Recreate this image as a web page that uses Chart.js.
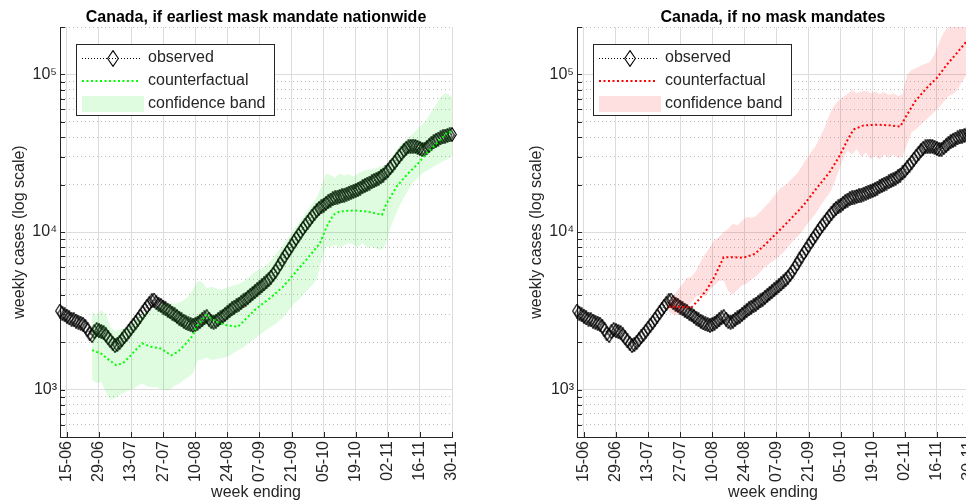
<!DOCTYPE html>
<html lang="en">
<head>
<meta charset="UTF-8">
<title>Canada - mask mandate counterfactuals</title>
<script src="https://cdn.jsdelivr.net/npm/chart.js"></script>
<style>
  html, body { margin: 0; padding: 0; background: #fff; }
  body { width: 966px; height: 502px; overflow: hidden; position: relative; }
  canvas { position: absolute; top: 0; }
  #left { left: 0; }
  #right { left: 517px; }
</style>
</head>
<body>
<canvas id="left" width="500" height="502"></canvas>
<canvas id="right" width="500" height="502"></canvas>

<script>
  // days counted from 15-06 (day 0)
  const tickDays = [0, 14, 28, 42, 56, 70, 84, 98, 112, 126, 140, 154, 168];
  const tickLabels = ['15-06', '29-06', '13-07', '27-07', '10-08', '24-08', '07-09',
                      '21-09', '05-10', '19-10', '02-11', '16-11', '30-11'];

  const yMajorValues = [1000, 10000, 100000];
  const yTickLabels = ['10³', '10⁴', '10⁵'];
  const yMinorValues = [500, 600, 700, 800, 900,
                        2000, 3000, 4000, 5000, 6000, 7000, 8000, 9000,
                        20000, 30000, 40000, 50000, 60000, 70000, 80000, 90000, 200000];

  const legendLabels = ['observed', 'counterfactual', 'confidence band'];

  // observed weekly cases, one value per day from 12-06 (day -3) to 30-11 (day 168)
  const obsStartDay = -3;
  const observed = [
    3150, 3050, 2980, 2920, 2850, 2800, 2770, 2720, 2680, 2640,
    2600, 2520, 2400, 2260, 2200, 2330, 2400, 2360, 2330, 2300,
    2220, 2130, 2040, 1960, 1900, 1930, 1990, 2070, 2160, 2240,
    2350, 2450, 2560, 2670, 2800, 2930, 3080, 3220, 3380, 3520,
    3660, 3700, 3560, 3480, 3420, 3340, 3260, 3190, 3120, 3050,
    2980, 2910, 2840, 2770, 2710, 2650, 2610, 2580, 2560, 2590,
    2640, 2700, 2770, 2850, 2900, 2800, 2700, 2680, 2720, 2780,
    2850, 2920, 3000, 3080, 3170, 3250, 3330, 3400, 3480, 3560,
    3650, 3740, 3850, 3960, 4070, 4180, 4300, 4420, 4550, 4680,
    4820, 4980, 5180, 5380, 5650, 5950, 6280, 6650, 7020, 7400,
    7780, 8200, 8650, 9100, 9550, 10050, 10550, 11050, 11550, 12050,
    12600, 13150, 13650, 14100, 14450, 14800, 15200, 15600, 15950, 16250,
    16450, 16650, 16800, 16950, 17150, 17400, 17650, 17900, 18100, 18350,
    18650, 19000, 19400, 19750, 20100, 20450, 20800, 21150, 21500, 21950,
    22450, 23000, 23700, 24500, 25500, 26600, 27800, 29000, 30300, 31600,
    32900, 34000, 34700, 35000, 35100, 34900, 34500, 33900, 33400, 33500,
    34300, 35300, 36400, 37400, 38200, 38900, 39500, 40100, 40600, 41000,
    41300, 41600
  ];

  // left panel: earliest mask mandate nationwide
  const earlyDays = [11, 15, 18.5, 21.5, 24.3, 27.3, 31, 33, 36.7, 41, 45.5, 48.4, 52, 55, 56.4,
                     60.8, 65.2, 69.6, 74.6, 78.3, 82.7, 88.5, 94.3, 98.7, 103.1, 107.4, 110.4,
                     113.3, 116.2, 119.1, 124.9, 130.8, 137.4, 139.5, 143.9, 148.3, 152.7, 157.1,
                     161.4, 165.8, 168];
  const earlyCases = [1780, 1690, 1535, 1430, 1465, 1612, 1850, 1960, 1870, 1820, 1650, 1735, 1963, 2210, 2500,
                      2970, 2690, 2560, 2500, 2830, 3270, 3790, 4500, 5330, 6320, 7500, 8490,
                      10800, 12840, 13500, 13700, 13500, 12840, 15240, 19460, 23070, 26720, 31700,
                      36700, 42560, 43600];
  const earlyBandDays = [11, 13, 15, 17, 19, 21, 23, 25, 27, 29, 31, 33, 35, 37, 39, 41, 43, 45, 47, 49,
                         51, 53, 55, 57, 59, 61, 63, 65, 67, 69, 71, 73, 75, 77, 79, 81, 83, 85, 87, 89,
                         91, 93, 95, 97, 99, 101, 103, 105, 107, 109, 111, 113, 115, 117, 119, 121, 123,
                         125, 127, 129, 131, 133, 135, 137, 139, 141, 143, 145, 147, 149, 151, 153, 155,
                         157, 159, 161, 163, 165, 167, 168];
  const earlyLow = [1146, 1100, 1120, 960, 860, 880, 920, 960, 990, 1010, 1060, 1090, 1050, 1030, 1040, 1010, 990, 1000, 1060, 1090,
                    1150, 1200, 1270, 1530, 1550, 1600, 1540, 1560, 1580, 1600, 1640, 1720, 1780, 1850, 1950, 2060, 2150, 2280, 2400, 2500,
                    2600, 2750, 2950, 3200, 3500, 3700, 4000, 4300, 4600, 5000, 6500, 8100, 8000, 8300, 7900, 8200, 8500,
                    8300, 8000, 8500, 7900, 8100, 7800, 7700, 8200, 10500, 12500, 14500, 16500, 18500, 20500, 22000, 23500,
                    24500, 25500, 26500, 27500, 28500, 29500, 30200];
  const earlyHigh = [3120, 2950, 3200, 3000, 2500, 2350, 2400, 2450, 2550, 2700, 2900, 3000, 3100, 3200, 3300, 3450, 3500, 3550, 3500, 3550,
                     3700, 3900, 4300, 4900, 4800, 4400, 4500, 4400, 4300, 4400, 4500, 4600, 4700, 4850, 5100, 5450, 5700, 5900, 6100, 6600,
                     7200, 7800, 8600, 9400, 10400, 11300, 12400, 13700, 15200, 16500, 19500, 23500, 23000, 22000, 23500, 22800, 23300,
                     22400, 23500, 24500, 24800, 25000, 25500, 26100, 26500, 28000, 32000, 35000, 37000, 40000, 42000, 45000, 48000,
                     52000, 58000, 64000, 72000, 76000, 74000, 72700];

  // right panel: no mask mandates
  const noMaskDays = [37, 42, 47, 50, 53.5, 57, 61, 65, 69.5, 74.6, 79.7, 84, 89, 94, 96, 101.6, 107.4,
                      111.8, 114.7, 117.6, 122, 128, 133.6, 138, 141, 144.5, 149.6, 154, 158.4, 162.8, 166.4, 168];
  const noMaskCases = [3350, 3350, 3330, 3700, 4290, 5200, 6920, 6920, 6870, 7260, 8490, 9810, 11600, 13840, 14900, 19000, 24200,
                       30900, 37600, 44700, 47500, 48000, 47500, 46600, 55600, 67600, 82200, 95100, 115600, 137200, 158800, 168000];
  const noMaskBandDays = [37, 39, 41, 43, 45, 47, 49, 51, 53, 55, 57, 59, 61, 63, 65, 67, 69, 71, 73, 75, 77, 79, 81,
                          83, 85, 87, 89, 91, 93, 95, 97, 99, 101, 103, 105, 107, 109, 111, 113, 115, 117, 119, 121,
                          123, 125, 127, 129, 131, 133, 135, 137, 139, 141, 143, 145, 147, 149, 151, 153, 155, 157,
                          159, 161, 163, 165, 167, 168];
  const noMaskLow = [3120, 3000, 2950, 3100, 3300, 3600, 3900, 4000, 3900, 4300, 4600, 4900, 4900, 4200, 4000, 4300, 4600, 4700, 5000, 5200, 5600, 6000, 6300,
                     6600, 7000, 7400, 8000, 8700, 9300, 10000, 11000, 12000, 13000, 14500, 16000, 17500, 20000, 24000, 29000, 33000, 31000, 33500, 30000,
                     32000, 29000, 30500, 28800, 31000, 29500, 31000, 29500, 30000, 36000, 43000, 45000, 48000, 51000, 54400, 58000, 62000, 67000,
                     72700, 75000, 80000, 90000, 100000, 105000];
  const noMaskHigh = [3610, 3900, 4300, 4700, 5100, 5200, 5700, 6500, 7300, 8000, 8900, 9300, 10000, 10500, 11300, 11000, 11800, 12500, 12300, 12600, 13500, 14500, 15500,
                      17000, 18500, 19500, 20500, 22000, 23500, 26000, 29000, 32000, 35000, 40000, 46000, 55000, 63000, 68000, 72000, 75000, 80000, 76000, 78000,
                      79000, 76000, 78000, 75000, 77000, 74000, 76000, 73000, 75000, 100000, 107000, 110000, 114000, 117000, 120000, 135000, 160000, 185000,
                      200000, 210000, 220000, 230000, 240000, 250000];

  const ink = '#262626';
  const fontFamily = "'Liberation Sans', Arial, Helvetica, sans-serif";
  Chart.defaults.font.family = fontFamily;
  Chart.defaults.color = ink;

  function diamond(w, h) {
    const c = document.createElement('canvas');
    c.width = w; c.height = h;
    const g = c.getContext('2d');
    g.strokeStyle = '#000';
    g.lineWidth = 1.1;
    g.beginPath();
    g.moveTo(w / 2, 0.6);
    g.lineTo(w - 0.6, h / 2);
    g.lineTo(w / 2, h - 0.6);
    g.lineTo(0.6, h / 2);
    g.closePath();
    g.stroke();
    return c;
  }
  const markDiamond = diamond(10, 15);
  const legendDiamond = diamond(12, 17);

  const toPoints = (xs, ys) => xs.map((x, i) => ({ x: x, y: ys[i] }));

  // MATLAB style ticks pointing into the plot
  const innerTicks = {
    id: 'innerTicks',
    afterDatasetsDraw(chart) {
      const { ctx, chartArea, scales } = chart;
      ctx.save();
      ctx.strokeStyle = ink;
      ctx.lineWidth = 1;
      ctx.beginPath();
      scales.x.ticks.forEach(t => {
        const px = Math.round(scales.x.getPixelForValue(t.value)) + 0.5;
        ctx.moveTo(px, chartArea.bottom);
        ctx.lineTo(px, chartArea.bottom - 5);
      });
      scales.y.ticks.forEach(t => {
        const py = Math.round(scales.y.getPixelForValue(t.value)) + 0.5;
        ctx.moveTo(chartArea.left, py);
        ctx.lineTo(chartArea.left + 5, py);
      });
      ctx.stroke();
      ctx.restore();
    }
  };

  const boxLegend = {
    id: 'boxLegend',
    afterDraw(chart, args, opts) {
      const { ctx, chartArea } = chart;
      const x = chartArea.left + 16, y = chartArea.top + 17, w = 198, h = 71;
      const rows = [y + 14, y + 37, y + 60];
      ctx.save();
      ctx.fillStyle = '#fff';
      ctx.fillRect(x, y, w, h);
      ctx.strokeStyle = ink;
      ctx.lineWidth = 1;
      ctx.strokeRect(x + 0.5, y + 0.5, w, h);

      ctx.beginPath();
      ctx.setLineDash([1, 2]);
      ctx.strokeStyle = '#000';
      ctx.moveTo(x + 6, rows[0] + 0.5);
      ctx.lineTo(x + 64, rows[0] + 0.5);
      ctx.stroke();
      ctx.drawImage(legendDiamond, x + 37 - 6, rows[0] - 8);

      ctx.beginPath();
      ctx.setLineDash([2, 2.5]);
      ctx.strokeStyle = opts.lineColor;
      ctx.lineWidth = 2;
      ctx.moveTo(x + 6, rows[1]);
      ctx.lineTo(x + 64, rows[1]);
      ctx.stroke();
      ctx.setLineDash([]);

      ctx.fillStyle = opts.bandColor;
      ctx.fillRect(x + 6, rows[2] - 8, 62, 16);

      ctx.fillStyle = ink;
      ctx.font = '16px ' + fontFamily;
      ctx.textBaseline = 'middle';
      legendLabels.forEach((t, i) => ctx.fillText(t, x + 72, rows[i]));
      ctx.restore();
    }
  };

  function makeChart(id, title, cfDays, cfCases, bandDays, bandLow, bandHigh, lineColor, bandColor) {
    return new Chart(document.getElementById(id), {
      type: 'line',
      data: {
        datasets: [
          {
            label: 'observed',
            data: observed.map((v, i) => ({ x: obsStartDay + i, y: v })),
            borderColor: '#000',
            borderWidth: 0.8,
            borderDash: [1, 2],
            pointStyle: markDiamond,
            pointRadius: 5,
            clip: false,
            order: 3
          },
          {
            label: 'band low',
            data: toPoints(bandDays, bandLow),
            borderWidth: 0,
            pointRadius: 0,
            fill: false,
            order: 2
          },
          {
            label: 'confidence band',
            data: toPoints(bandDays, bandHigh),
            borderWidth: 0,
            pointRadius: 0,
            backgroundColor: bandColor,
            fill: '-1',
            order: 2
          },
          {
            label: 'counterfactual',
            data: toPoints(cfDays, cfCases),
            borderColor: lineColor,
            borderWidth: 2,
            borderDash: [2, 2.5],
            pointRadius: 0,
            fill: false,
            order: 1
          }
        ]
      },
      options: {
        responsive: false,
        animation: false,
        devicePixelRatio: 1,
        layout: { padding: { left: 0, right: 48, top: 0, bottom: 0 } },
        plugins: {
          legend: { display: false },
          tooltip: { enabled: false },
          title: {
            display: true,
            text: title,
            fullSize: false,
            color: '#000',
            font: { size: 16, weight: 'bold' },
            padding: { top: 7.5, bottom: 0.3 }
          },
          boxLegend: { lineColor: lineColor, bandColor: bandColor }
        },
        scales: {
          x: {
            type: 'linear',
            min: obsStartDay,
            max: 168,
            afterBuildTicks: s => { s.ticks = tickDays.map(v => ({ value: v })); },
            afterFit: s => { s.height = 65; },
            ticks: {
              autoSkip: false,
              minRotation: 90,
              maxRotation: 90,
              padding: 4,
              color: ink,
              font: { size: 16 },
              callback: v => tickLabels[tickDays.indexOf(v)]
            },
            grid: { color: '#dcdcdc', lineWidth: 1, drawTicks: false },
            border: { color: ink, width: 1 },
            title: {
              display: true,
              text: 'week ending',
              color: ink,
              font: { size: 16 },
              padding: { top: 0, bottom: 0 }
            }
          },
          y: {
            type: 'logarithmic',
            min: 500,
            max: 200000,
            afterBuildTicks: s => {
              s.ticks = yMinorValues.concat(yMajorValues).sort((a, b) => a - b).map(v => ({ value: v }));
            },
            afterFit: s => { s.width = 60; },
            ticks: {
              autoSkip: false,
              padding: 3,
              color: ink,
              font: { size: 16 },
              callback: v => {
                const k = yMajorValues.indexOf(v);
                return k < 0 ? '' : yTickLabels[k];
              }
            },
            grid: {
              drawTicks: false,
              lineWidth: 1,
              color: c => (c.tick && yMajorValues.includes(c.tick.value)) ? '#dcdcdc' : '#bdbdbd'
            },
            border: {
              color: ink,
              width: 1,
              dash: c => (c.tick && !yMajorValues.includes(c.tick.value)) ? [1, 3] : []
            },
            title: {
              display: true,
              text: 'weekly cases (log scale)',
              color: ink,
              font: { size: 16 },
              padding: { top: 10, bottom: 0 }
            }
          }
        }
      },
      plugins: [innerTicks, boxLegend]
    });
  }

  makeChart('left', 'Canada, if earliest mask mandate nationwide',
            earlyDays, earlyCases, earlyBandDays, earlyLow, earlyHigh,
            '#00ff00', 'rgba(0, 230, 0, 0.12)');
  makeChart('right', 'Canada, if no mask mandates',
            noMaskDays, noMaskCases, noMaskBandDays, noMaskLow, noMaskHigh,
            '#ff0000', 'rgba(255, 0, 0, 0.12)');
</script>
</body>
</html>
